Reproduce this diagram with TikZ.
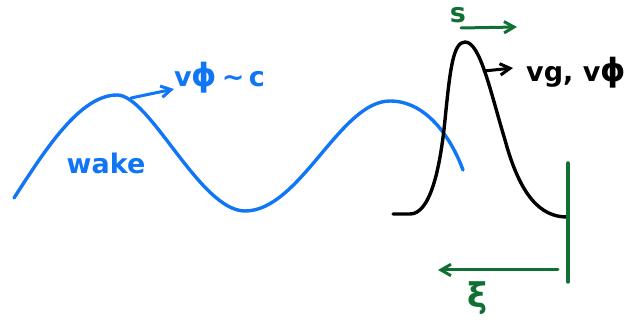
\documentclass[tikz,border=0pt]{standalone}
\usepackage{fontspec}
\setmainfont{DejaVu Sans}
\usetikzlibrary{arrows.meta}
\definecolor{wakeblue}{RGB}{16,118,245}
\definecolor{beamgreen}{RGB}{16,112,52}

\begin{document}
\begin{tikzpicture}[
  x=1pt, y=-1pt,
  curve/.style={line width=3.4pt, line cap=round, line join=round},
  arrow/.style={-{Straight Barb[length=3.5mm, width=4mm]}, line width=3pt, line cap=round},
  sketch/.style={font=\fontsize{27}{30}\selectfont\bfseries, inner sep=0pt},
]
  \useasboundingbox (0,0) rectangle (633,323);

  % Wake
  \draw[curve, wakeblue] (14,198) .. controls (45,150) and (80,95) .. (117,95)
    .. controls (150,95) and (200,211) .. (245,211)
    .. controls (300,211) and (340,101) .. (390,101)
    .. controls (425,101) and (450,135) .. (463,170);
  \coordinate (wakepeak) at (131,98);
  \coordinate (wakehead) at (174,89);
  \draw[arrow, wakeblue] (wakepeak) -- (wakehead);
  \node[sketch, wakeblue, anchor=west] (vphi) at (174,78)
    {v{\fontsize{32}{34}\selectfont ϕ}\,\textasciitilde\,c};
  \node[sketch, wakeblue] (wake) at (106,163) {wake};

  % Driver pulse
  \draw[curve, black] (393,214) -- (410,214)
    .. controls (430,214) and (440,170) .. (445,120)
    .. controls (450,70) and (453,42) .. (465,42)
    .. controls (480,42) and (490,90) .. (505,140)
    .. controls (520,195) and (540,217) .. (567,217);
  \coordinate (pulseside) at (484,71);
  \coordinate (pulsehead) at (513,68);
  \draw[arrow, black] (pulseside) -- (pulsehead);
  \node[sketch, black, anchor=west] (vgroup) at (526,73)
    {vg, v{\fontsize{32}{34}\selectfont ϕ}};

  % Co-moving frame
  \coordinate (frametop) at (568,163);
  \coordinate (framebot) at (568,282);
  \draw[curve, beamgreen] (frametop) -- (framebot);
  \coordinate (xistart) at (558,270);
  \coordinate (xiend) at (438,270);
  \draw[arrow, beamgreen] (xistart) -- (xiend);
  \node[sketch, beamgreen, font=\fontsize{34}{36}\selectfont\bfseries] (xi) at (478,298) {ξ};
  \node[sketch, beamgreen] (s) at (458,15) {s};
  \coordinate (sstart) at (461,28);
  \coordinate (send) at (517,27);
  \draw[arrow, beamgreen] (sstart) -- (send);
\end{tikzpicture}
\end{document}
